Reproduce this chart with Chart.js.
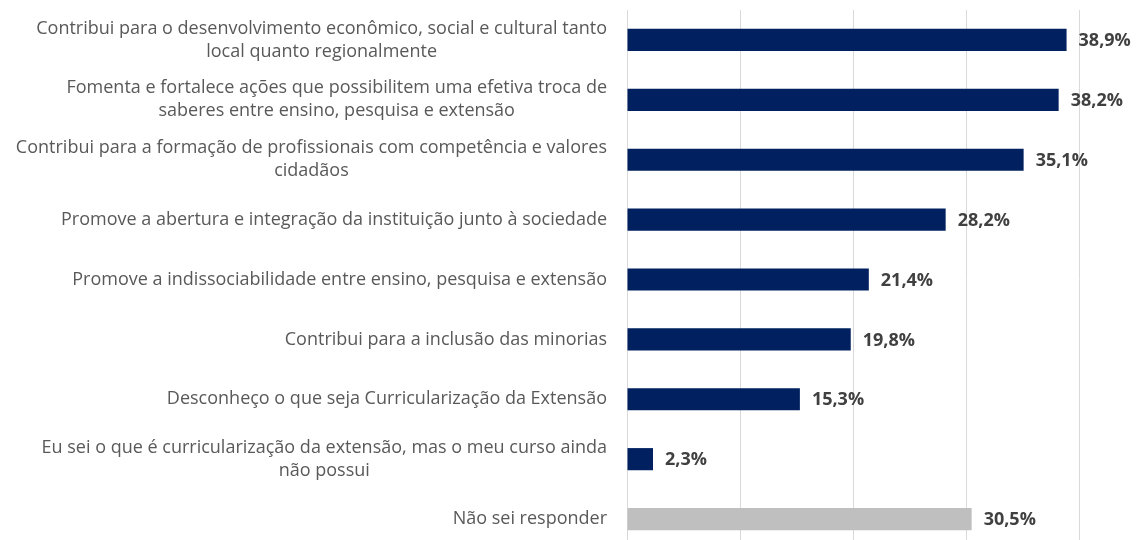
<!DOCTYPE html>
<html>
<head>
<meta charset="utf-8">
<script src="https://cdn.jsdelivr.net/npm/chart.js@4"></script>
<style>
  html, body { margin: 0; padding: 0; background: #fff; overflow: hidden; }
</style>
</head>
<body>
<canvas id="chart-extensao" width="1137" height="550"></canvas>
<script>
const categories = [
  ["Contribui para o desenvolvimento econômico, social e cultural tanto", "local quanto regionalmente"],
  ["Fomenta e fortalece ações que possibilitem uma efetiva troca de", "saberes entre ensino, pesquisa e extensão"],
  ["Contribui para a formação de profissionais com competência e valores", "cidadãos"],
  ["Promove a abertura e integração da instituição junto à sociedade"],
  ["Promove a indissociabilidade entre ensino, pesquisa e extensão"],
  ["Contribui para a inclusão das minorias"],
  ["Desconheço o que seja Curricularização da Extensão"],
  ["Eu sei o que é curricularização da extensão, mas o meu curso ainda", "não possui"],
  ["Não sei responder"],
];
const percentValues = [38.9, 38.2, 35.1, 28.2, 21.4, 19.8, 15.3, 2.3, 30.5];
const axisTicks = [0, 10, 20, 30, 40];

let labelFont = '18px "Open Sans"';
let valueFont = 'bold 18px "Open Sans"';

// labels on the left: block right aligned, lines centered on each other
let categoryLabels = {
  id: "categoryLabels",
  afterDraw: function (chart) {
    let ctx = chart.ctx;
    let y = chart.scales.y;
    let right = 607;
    let lineHeight = 23;
    ctx.save();
    ctx.font = labelFont;
    ctx.fillStyle = "#595959";
    ctx.textAlign = "center";
    ctx.textBaseline = "middle";
    categories.forEach(function (lines, i) {
      let maxW = 0;
      lines.forEach(function (l) {
        maxW = Math.max(maxW, ctx.measureText(l).width);
      });
      let cx = right - maxW / 2;
      let cy = y.getPixelForValue(i);
      let top = cy - ((lines.length - 1) * lineHeight) / 2;
      lines.forEach(function (l, k) {
        ctx.fillText(l, cx, top + k * lineHeight);
      });
    });
    ctx.restore();
  },
};

let valueLabels = {
  id: "valueLabels",
  afterDatasetsDraw: function (chart) {
    let ctx = chart.ctx;
    let meta = chart.getDatasetMeta(0);
    ctx.save();
    ctx.font = valueFont;
    ctx.fillStyle = "#404040";
    ctx.textAlign = "left";
    ctx.textBaseline = "middle";
    meta.data.forEach(function (bar, i) {
      let txt = percentValues[i].toFixed(1).replace(".", ",") + "%";
      ctx.fillText(txt, bar.x + 12, bar.y + 1);
    });
    ctx.restore();
  },
};

let chartDraw = function () {
  let ctx = document.getElementById("chart-extensao").getContext("2d");

  new Chart(ctx, {
    type: "bar",
    data: {
      labels: categories,
      datasets: [
        {
          data: percentValues,
          backgroundColor: function (c) {
            return c.dataIndex === categories.length - 1 ? "#BFBFBF" : "#002060";
          },
          barPercentage: 0.37,
          categoryPercentage: 1,
        },
      ],
    },
    options: {
      indexAxis: "y",
      responsive: false,
      animation: false,
      layout: {
        padding: { top: 10, right: 58, bottom: 1, left: 0 },
      },
      plugins: {
        legend: { display: false },
        tooltip: { enabled: false },
      },
      scales: {
        x: {
          min: axisTicks[0],
          max: axisTicks[axisTicks.length - 1],
          afterBuildTicks: function (scale) {
            scale.ticks = axisTicks.map(function (v) {
              return { value: v };
            });
          },
          ticks: { display: false },
          grid: { color: "#D9D9D9", lineWidth: 1, drawTicks: false },
          border: { display: false },
        },
        y: {
          ticks: { display: false },
          grid: { display: false, drawTicks: false },
          border: { display: false },
          afterFit: function (scale) {
            scale.width = 627;
          },
        },
      },
    },
    plugins: [categoryLabels, valueLabels],
  });
};

window.onload = function () {
  chartDraw();
};
</script>
</body>
</html>
